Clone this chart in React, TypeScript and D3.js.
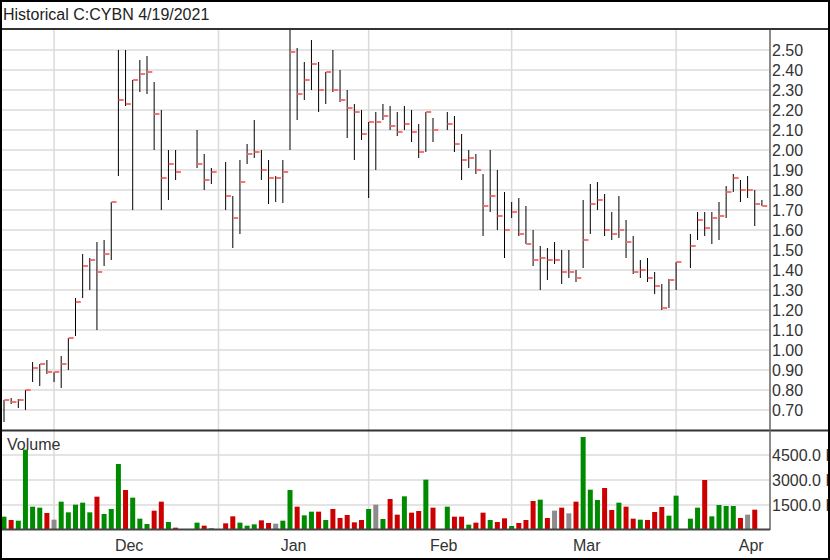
import React, { useEffect, useRef } from 'react';
import * as d3 from 'd3';

// one slot per weekday starting 2020-11-05, null = no trade that day
const highs = [0.75, 0.76, 0.755, 0.80, 0.94, 0.93, 0.95, 0.89, 0.97, 1.06, 1.26, 1.48, 1.46, 1.54, 1.55, 1.74, 2.50, 2.50, 2.35, 2.45, 2.47, 2.34, 2.20, 2.00, 2.00, null, null, 2.10, 1.98, 1.91, null, 1.94, 1.77, 1.95, 2.03, 2.15, 2.00, 1.95, 1.87, 1.95, 2.60, 2.51, 2.44, 2.55, 2.44, 2.39, 2.50, 2.40, 2.30, 2.23, 2.20, 2.14, 2.19, 2.23, 2.22, 2.19, 2.22, 2.20, 2.13, 2.19, 2.16, null, 2.19, 2.17, 2.08, 2.00, 1.98, 1.88, 2.00, 1.90, 1.79, 1.74, 1.76, 1.72, 1.60, 1.52, 1.51, 1.54, 1.50, 1.50, 1.40, 1.75, 1.83, 1.84, 1.78, 1.69, 1.77, 1.65, 1.57, 1.45, 1.46, 1.39, 1.33, 1.355, 1.44, null, 1.58, 1.69, 1.69, 1.69, 1.74, 1.82, 1.88, 1.85, 1.87, 1.80, 1.75];
const lows = [0.64, 0.73, 0.71, 0.70, 0.84, 0.82, 0.88, 0.84, 0.81, 0.90, 1.07, 1.26, 1.30, 1.10, 1.42, 1.45, 1.87, 2.22, 1.70, 2.29, 2.28, 2.00, 1.70, 1.75, 1.85, null, null, 1.91, 1.80, 1.83, null, 1.70, 1.51, 1.58, 1.93, 1.96, 1.85, 1.73, 1.74, 1.735, 2.00, 2.15, 2.25, 2.30, 2.19, 2.23, 2.29, 2.24, 2.06, 1.95, 2.05, 1.76, 1.90, 2.15, 2.10, 2.07, 2.10, 2.04, 1.96, 1.99, 2.04, null, 2.10, 1.99, 1.85, 1.91, 1.88, 1.57, 1.69, 1.60, 1.46, 1.66, 1.57, 1.53, 1.42, 1.30, 1.35, 1.43, 1.33, 1.36, 1.34, 1.41, 1.58, 1.70, 1.57, 1.55, 1.56, 1.46, 1.38, 1.36, 1.34, 1.28, 1.20, 1.21, 1.30, null, 1.41, 1.55, 1.57, 1.53, 1.55, 1.66, 1.79, 1.74, 1.76, 1.62, 1.72];
const closes = [0.75, 0.74, 0.75, 0.80, 0.91, 0.93, 0.89, 0.89, 0.93, 1.06, 1.24, 1.42, 1.45, 1.39, 1.48, 1.74, 2.25, 2.23, 2.35, 2.38, 2.39, 2.18, 1.86, 1.93, 1.89, null, null, 1.93, 1.85, 1.89, null, 1.77, 1.66, 1.84, 1.98, 1.99, 1.90, 1.86, 1.86, 1.89, 2.49, 2.28, 2.35, 2.43, 2.30, 2.39, 2.30, 2.25, 2.21, 2.19, 2.08, 2.14, 2.14, 2.17, 2.12, 2.09, 2.13, 2.09, 1.99, 2.19, 2.10, null, 2.13, 2.03, 1.95, 1.96, 1.90, 1.72, 1.77, 1.67, 1.60, 1.69, 1.58, 1.53, 1.45, 1.46, 1.45, 1.45, 1.39, 1.39, 1.36, 1.55, 1.73, 1.75, 1.60, 1.58, 1.60, 1.54, 1.39, 1.40, 1.36, 1.32, 1.21, 1.35, 1.44, null, 1.52, 1.65, 1.61, 1.66, 1.67, 1.79, 1.86, 1.80, 1.80, 1.73, 1.72];
// thousands of shares
const volumes = [800, 600, 560, 4820, 1400, 1340, 1020, 620, 1700, 1060, 1520, 1640, 1060, 2000, 960, 1260, 3960, 2400, 1940, 680, 360, 1160, 1700, 480, 140, null, null, 440, 260, 100, null, 400, 820, 440, 260, 340, 580, 420, 380, 560, 2400, 1400, 880, 1100, 1100, 600, 1260, 720, 900, 460, 600, 1260, 1520, 660, 1860, 920, 2020, 1040, 1140, 3020, 1340, null, 1400, 800, 800, 320, 440, 1040, 600, 480, 700, 240, 420, 600, 1740, 1820, 720, 1160, 1340, 1000, 1700, 5580, 2420, 1800, 2520, 1200, 1640, 1400, 680, 620, 600, 1080, 1380, 860, 2060, null, 680, 1340, 3000, 820, 1500, 1440, 1440, 720, 920, 1220, 60];

const priceTicks = [0.7, 0.8, 0.9, 1.0, 1.1, 1.2, 1.3, 1.4, 1.5, 1.6, 1.7, 1.8, 1.9, 2.0, 2.1, 2.2, 2.3, 2.4, 2.5];
const volumeTicks = [1500, 3000, 4500];
const monthLabels = ['Dec', 'Jan', 'Feb', 'Mar', 'Apr'];
const title = 'Historical C:CYBN 4/19/2021';

const App: React.FC = () => {
  const svgRef = useRef<SVGSVGElement>(null);

  useEffect(() => {
    if (!svgRef.current) return;
    const svg = d3.select(svgRef.current);
    svg.selectAll('*').remove();

    const width = 830;
    const height = 560;
    const plotLeft = 2;
    const plotRight = 770;
    const font = "'Liberation Sans', Arial, sans-serif";

    // weekday slots
    const start = new Date(2020, 10, 5);
    const days: Date[] = [];
    for (let d = new Date(start); days.length < closes.length; d.setDate(d.getDate() + 1)) {
      if (d.getDay() !== 0 && d.getDay() !== 6) days.push(new Date(d));
    }
    const monthStarts: number[] = [];
    days.forEach((d, i) => {
      if (i > 0 && d.getMonth() !== days[i - 1].getMonth()) monthStarts.push(i - 0.5);
    });

    const x = d3.scaleLinear().domain([0, closes.length - 1]).range([4, 4 + (closes.length - 1) * 7.15]);
    const y = d3.scaleLinear().domain([0.7, 2.5]).range([410, 50]);
    const yv = d3.scaleLinear().domain([0, 4500]).range([530, 455]);

    svg.attr('width', width).attr('height', height).attr('viewBox', `0 0 ${width} ${height}`);
    svg.append('rect').attr('width', width).attr('height', height).attr('fill', '#fff');

    // grids
    const grid = svg.append('g');
    priceTicks.forEach(t => {
      grid.append('line')
        .attr('x1', plotLeft).attr('x2', plotRight)
        .attr('y1', y(t)).attr('y2', y(t))
        .attr('stroke', '#e4e4e4').attr('stroke-width', 2);
    });
    volumeTicks.forEach(t => {
      grid.append('line')
        .attr('x1', plotLeft).attr('x2', plotRight)
        .attr('y1', yv(t)).attr('y2', yv(t))
        .attr('stroke', '#e4e4e4').attr('stroke-width', 2);
    });
    monthStarts.forEach(m => {
      const gx = x(m - 10.5);
      grid.append('line')
        .attr('x1', gx).attr('x2', gx).attr('y1', 30).attr('y2', 530)
        .attr('stroke', '#dadada').attr('stroke-width', 1.5);
    });

    // HLC bars
    const bars = svg.append('g');
    closes.forEach((c, i) => {
      const h = highs[i], l = lows[i];
      if (c == null || h == null || l == null) return;
      const bx = x(i);
      bars.append('line')
        .attr('x1', bx).attr('x2', bx)
        .attr('y1', Math.max(30, y(h))).attr('y2', y(l))
        .attr('stroke', '#000').attr('stroke-width', 1);
      bars.append('rect')
        .attr('x', bx + 0.3).attr('y', y(c) - 1)
        .attr('width', 5).attr('height', 2)
        .attr('fill', '#ff7070');
    });

    // volume
    let prev: number | null = null;
    const vol = svg.append('g');
    volumes.forEach((v, i) => {
      const c = closes[i];
      if (v == null || c == null) return;
      let color = '#008a00';
      if (prev != null) {
        if (c < prev) color = '#cc0000';
        else if (c === prev) color = '#8c8c8c';
      }
      prev = c;
      vol.append('rect')
        .attr('x', x(i) - 2.5).attr('y', yv(v))
        .attr('width', 5).attr('height', yv(0) - yv(v))
        .attr('fill', color);
    });

    // frame lines
    svg.append('line').attr('x1', 0).attr('x2', width).attr('y1', 29).attr('y2', 29)
      .attr('stroke', '#333').attr('stroke-width', 2);
    svg.append('line').attr('x1', 0).attr('x2', width).attr('y1', 430.5).attr('y2', 430.5)
      .attr('stroke', '#333').attr('stroke-width', 2);
    svg.append('line').attr('x1', plotRight).attr('x2', plotRight).attr('y1', 30).attr('y2', 530)
      .attr('stroke', '#666').attr('stroke-width', 1.5);
    svg.append('line').attr('x1', plotLeft).attr('x2', plotRight).attr('y1', 529.5).attr('y2', 529.5)
      .attr('stroke', '#444').attr('stroke-width', 2);

    // labels
    const txt = svg.append('g').attr('font-family', font).attr('font-size', 16).attr('fill', '#333');
    txt.append('text').attr('x', 3).attr('y', 20).attr('fill', '#222').text(title);
    priceTicks.forEach(t => {
      txt.append('text').attr('x', 772).attr('y', y(t)).attr('dy', '0.35em').text(d3.format('.2f')(t));
    });
    volumeTicks.forEach(t => {
      txt.append('text').attr('x', 772).attr('y', yv(t)).attr('dy', '0.35em').text(`${d3.format('.1f')(t)} K`);
    });
    txt.append('text').attr('x', 7).attr('y', 450).text('Volume');
    monthStarts.forEach((m, i) => {
      txt.append('text').attr('x', x(m)).attr('y', 551)
        .attr('text-anchor', 'middle').text(monthLabels[i]);
    });

    // outer border
    svg.append('rect').attr('x', 1).attr('y', 1).attr('width', width - 2).attr('height', height - 2)
      .attr('fill', 'none').attr('stroke', '#000').attr('stroke-width', 2);
  }, []);

  return (
    <div style={{ position: 'absolute', left: 0, top: 0 }}>
      <svg ref={svgRef} style={{ display: 'block' }}></svg>
    </div>
  );
};

export default App;
